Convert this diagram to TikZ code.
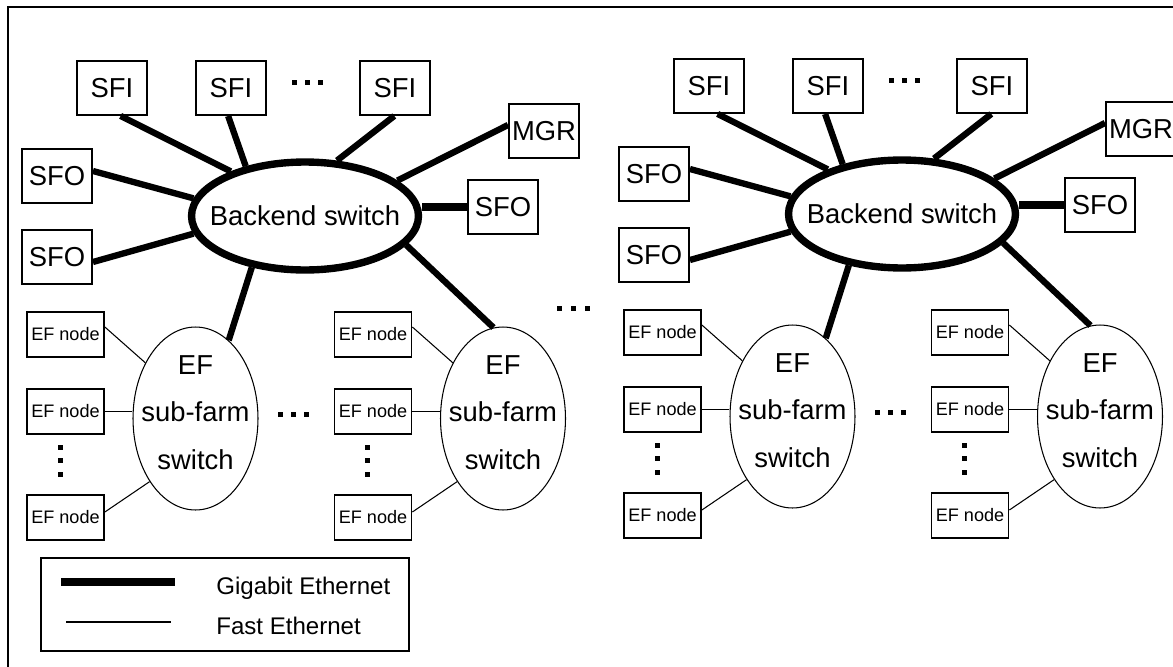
\documentclass[tikz,border=0pt]{standalone}
\usepackage{fontspec}
\setmainfont{Liberation Sans}
\usetikzlibrary{shapes.geometric, calc}

\begin{document}
\begin{tikzpicture}[x=0.02cm, y=-0.02cm,
  sbox/.style={draw, line width=1.1pt, minimum width=1.4cm, minimum height=1.08cm,
               inner sep=0pt, font=\fontsize{15.6}{18}\selectfont},
  efbox/.style={draw, line width=1pt, minimum width=1.54cm, minimum height=0.9cm,
                inner sep=0pt, font=\fontsize{10.3}{12}\selectfont},
  bsw/.style={draw, ellipse, line width=4.2pt, minimum width=4.54cm,
              minimum height=2.16cm, inner sep=0pt},
  sfsw/.style={draw, ellipse, line width=0.6pt, minimum width=2.5cm,
               minimum height=3.66cm, inner sep=0pt},
  swtext/.style={align=center, inner sep=0pt, font=\fontsize{15.6}{27}\selectfont},
  legtext/.style={anchor=base west, inner sep=0pt, font=\fontsize{13.7}{16}\selectfont},
  gig/.style={line width=3.6pt},
  fast/.style={line width=0.6pt}
]
  \useasboundingbox (0,0) rectangle (1173,666);
  \clip (0,0) rectangle (1173,666);

  % ── Frame ──
  \draw[line width=1.1pt] (8,7) rectangle (1200,700);

  % ── Two event filter farms ──
  \foreach \s/\dx/\dy in {a/0/0, b/597/-2} {
    \begin{scope}[shift={(\dx,\dy)}]
      % backend switch and its ports
      \node[bsw] (bs\s) at (305,216) {};
      \node[inner sep=0pt, font=\fontsize{15.6}{18}\selectfont] (bst\s) at (bs\s.center) {Backend switch};
      \node[sbox] (sfi1\s) at (112,88)  {SFI};
      \node[sbox] (sfi2\s) at (231,88)  {SFI};
      \node[sbox] (sfi3\s) at (395,88)  {SFI};
      \node[sbox] (mgr\s)  at (544,131) {MGR};
      \node[sbox] (sfoa\s) at (57,176)  {SFO};
      \node[sbox] (sfob\s) at (57,257)  {SFO};
      \node[sbox] (sfoc\s) at (503,207) {SFO};
      \foreach \k in {0,1,2}
        \fill ({292+13*\k},79.5) rectangle ++(5,5);

      % sub-farms
      \foreach \t/\ox in {1/0, 2/307.5} {
        \node[sfsw] (sf\t\s) at ({195.5+\ox},418.5) {};
        \node[swtext] (sft\t\s) at ($(sf\t\s.center)+(0,-6)$) {EF\\sub-farm\\switch};
        \node[efbox] (ef1\t\s) at ({65.5+\ox},334.5) {EF node};
        \node[efbox] (ef2\t\s) at ({65.5+\ox},411.5) {EF node};
        \node[efbox] (ef3\t\s) at ({65.5+\ox},517.5) {EF node};
        \draw[fast] ($(ef1\t\s.east)+(0,-7.5)$) -- (sf\t\s.132);
        \draw[fast] (ef2\t\s.east) -- (ef2\t\s.east -| sf\t\s.west);
        \draw[fast] ($(ef3\t\s.east)+(0,-5.5)$) -- (sf\t\s.234);
        \foreach \k in {0,1,2}
          \fill ({57.5+\ox},{444.5+13.75*\k}) rectangle ++(5,5);
      }
      \foreach \k in {0,1,2}
        \fill ({278+13*\k},411.5) rectangle ++(5,5);

      % gigabit links
      \draw[gig] ($(sfi1\s.south west)!0.62!(sfi1\s.south east)$) -- (bs\s.149);
      \draw[gig] ($(sfi2\s.south west)!0.46!(sfi2\s.south east)$) -- (bs\s.140);
      \draw[gig] ($(sfi3\s.south west)!0.49!(sfi3\s.south east)$) -- (bs\s.60);
      \draw[gig] ($(mgr\s.west)+(0,-6)$) -- (bs\s.21);
      \draw[gig] ($(sfoa\s.east)+(0,-5)$) -- (bs\s.171);
      \draw[gig] ($(sfob\s.east)+(0,5)$) -- (bs\s.189);
      \draw[gig, line width=4.6pt] (sfoc\s.west) -- (sfoc\s.west -| bs\s.east);
      \draw[gig] (bs\s.224) -- (sf1\s.67);
      \draw[gig] (bs\s.344) -- (sf2\s.96);
    \end{scope}
  }

  % ── Dots between farms ──
  \foreach \k in {0,1,2}
    \fill ({557+14*\k},305.5) rectangle ++(5,5);

  % ── Legend ──
  \node[draw, line width=1.1pt, minimum width=7.36cm, minimum height=1.86cm] (legend) at (225,604.5) {};
  \coordinate (g1) at (61,582);
  \coordinate (g2) at (175,582);
  \coordinate (f1) at (66,622);
  \coordinate (f2) at (171,622);
  \draw[line width=4.6pt] (g1) -- (g2);
  \draw[fast] (f1) -- (f2);
  \node[legtext] (gigtxt)  at (216,594) {Gigabit Ethernet};
  \node[legtext] (fasttxt) at (216,634) {Fast Ethernet};

\end{tikzpicture}
\end{document}
